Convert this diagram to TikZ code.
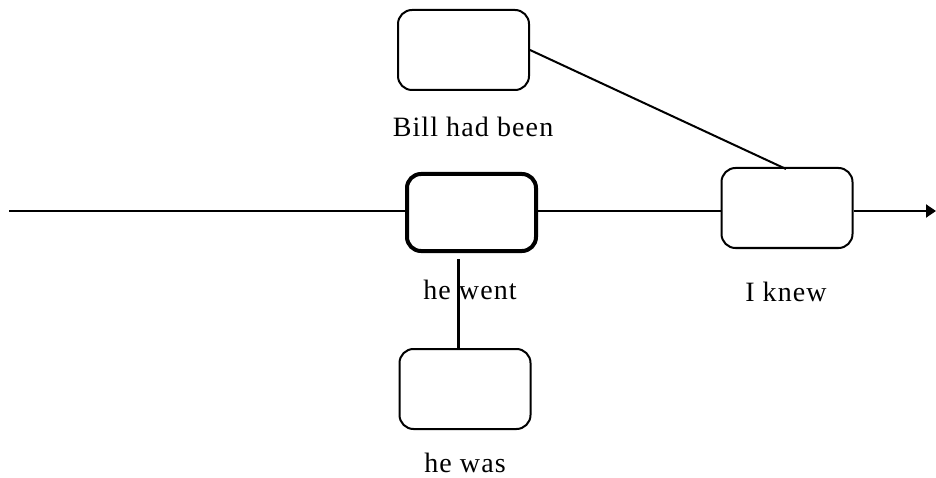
\documentclass[tikz,border=0pt]{standalone}
\usepackage{fontspec}
\setmainfont[LetterSpace=4]{Liberation Serif}
\usetikzlibrary{arrows.meta}
\begin{document}
\begin{tikzpicture}[x=1pt,y=-1pt,
  evbox/.style={draw, line width=2pt, rounded corners=14pt, minimum width=131pt, minimum height=80pt, inner sep=0pt, fill=white},
  mainbox/.style={evbox, line width=4pt, minimum width=129pt, minimum height=77pt},
  lbl/.style={anchor=base, font=\fontsize{28}{32}\selectfont, inner sep=0pt},
  conn/.style={line width=2pt}]
\useasboundingbox (0,0) rectangle (936,478);
\node[evbox] (bill) at (463.5,50) {};
\node[mainbox] (went) at (471.5,212.5) {};
\node[evbox] (knew) at (787,208) {};
\node[evbox] (was) at (465,389) {};
\node[lbl] (lbill) at (473,137) {Bill had been};
\node[lbl] (lwent) at (470,299) {he went};
\node[lbl] (lknew) at (786,301) {I knew};
\node[lbl] (lwas) at (465,472) {he was};
\coordinate (start) at (9,211);
\coordinate (end) at (936,211);
\coordinate (vtop) at (458,259);
\coordinate (vbot) at (458,349);
\draw[conn] (start) -- (went.west |- start);
\draw[conn] (went.east |- start) -- (knew.west |- start);
\draw[conn, -{Triangle[length=10pt,width=13pt]}] (knew.east |- start) -- (end);
\draw[conn] (bill.east) -- ([xshift=-1pt,yshift=-2pt]knew.north);
\draw[line width=3pt] (vtop) -- (vbot);
\end{tikzpicture}
\end{document}
